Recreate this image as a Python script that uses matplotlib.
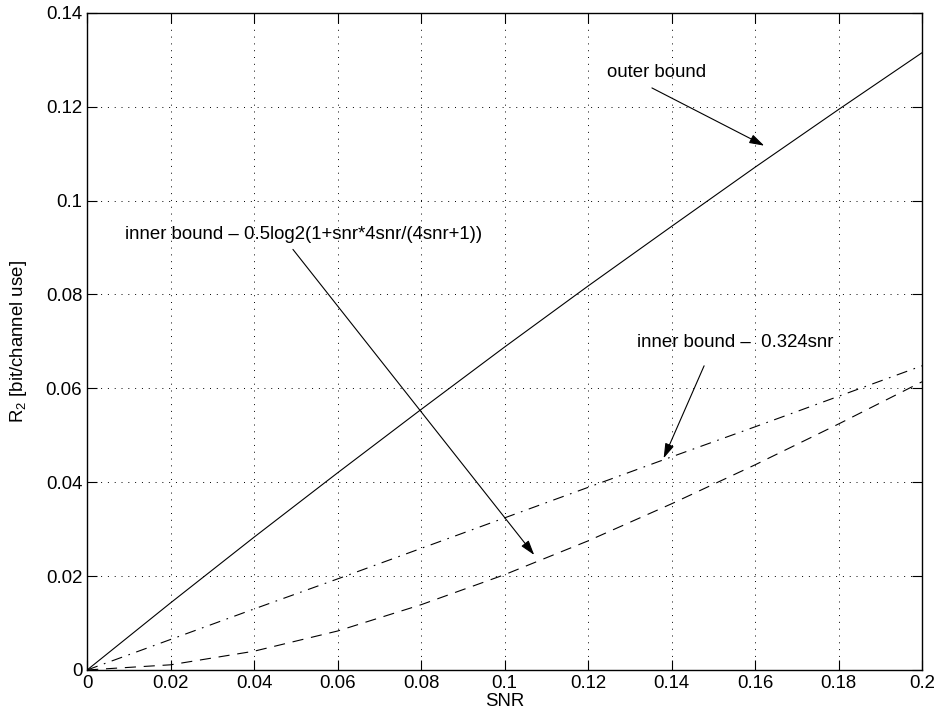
import matplotlib
matplotlib.use("Agg")
import matplotlib.pyplot as plt

plt.rcParams['font.family'] = ['Liberation Sans', 'DejaVu Sans']
plt.rcParams['mathtext.default'] = 'regular'

# values
snr = [0, 0.02, 0.04, 0.06, 0.08, 0.10, 0.12, 0.14, 0.16, 0.18, 0.20]
outer = [0, 0.0143, 0.0283, 0.0420, 0.0555, 0.0688, 0.0818, 0.0945, 0.1071, 0.1194, 0.1315]
inner_lin = [0, 0.0065, 0.0130, 0.0194, 0.0259, 0.0324, 0.0389, 0.0454, 0.0518, 0.0583, 0.0648]
inner_log = [0, 0.0011, 0.0040, 0.0083, 0.0139, 0.0203, 0.0275, 0.0354, 0.0437, 0.0524, 0.0614]

xticks = [0, 0.02, 0.04, 0.06, 0.08, 0.1, 0.12, 0.14, 0.16, 0.18, 0.2]
xticklabels = ['0', '0.02', '0.04', '0.06', '0.08', '0.1', '0.12', '0.14', '0.16', '0.18', '0.2']
yticks = [0, 0.02, 0.04, 0.06, 0.08, 0.1, 0.12, 0.14]
yticklabels = ['0', '0.02', '0.04', '0.06', '0.08', '0.1', '0.12', '0.14']

fig = plt.figure(figsize=(9.37, 7.17), dpi=100, facecolor='white')
ax = fig.add_axes([0.093, 0.0656, 0.891, 0.9165])

ax.plot(snr, outer, color='k', lw=0.8, linestyle='-')
ax.plot(snr, inner_lin, color='k', lw=0.8, linestyle=(0, (10, 6, 1.5, 6)))
ax.plot(snr, inner_log, color='k', lw=0.8, linestyle=(0, (10, 7)))

ax.set_xlim(0, 0.2)
ax.set_ylim(0, 0.14)
ax.set_xticks(xticks)
ax.set_xticklabels(xticklabels)
ax.set_yticks(yticks)
ax.set_yticklabels(yticklabels)
ax.grid(True, color='k', linestyle=(0, (1, 6)), linewidth=0.7)
ax.tick_params(direction='in', length=7, width=0.8, top=True, right=True, labelsize=13.4)
for s in ax.spines.values():
    s.set_linewidth(1.0)

ax.set_xlabel('SNR', fontsize=13.4, labelpad=1)
ax.set_ylabel('R$_2$ [bit/channel use]', fontsize=13.4, labelpad=12)

arrow = dict(arrowstyle='-|>,head_length=0.45,head_width=0.14', color='k', lw=0.8,
             mutation_scale=20, shrinkA=0, shrinkB=0)
ax.text(0.1246, 0.1273, 'outer bound', fontsize=13.4, va='center', ha='left')
ax.annotate('', xy=(0.1622, 0.1117), xytext=(0.1353, 0.1240), arrowprops=arrow)

ax.text(0.1317, 0.0697, 'inner bound \u2013  0.324snr', fontsize=13.4, va='center', ha='left')
ax.annotate('', xy=(0.1381, 0.0451), xytext=(0.1478, 0.0648), arrowprops=arrow)

ax.text(0.0091, 0.0927, 'inner bound \u2013 0.5log2(1+snr*4snr/(4snr+1))', fontsize=13.4, va='center', ha='left')
ax.annotate('', xy=(0.1071, 0.0245), xytext=(0.0493, 0.0896), arrowprops=arrow)

fig.savefig('out.png', dpi=100, facecolor='white')
